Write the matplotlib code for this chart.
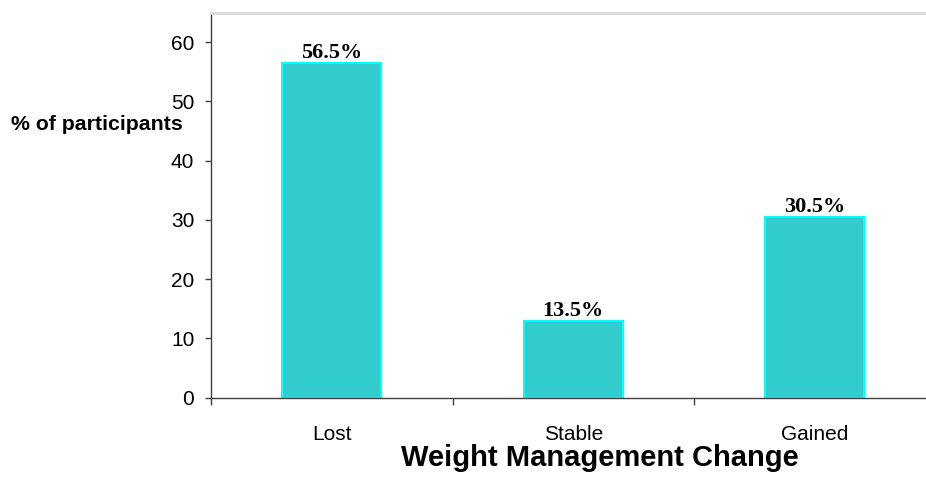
import matplotlib
matplotlib.use('Agg')
import matplotlib.pyplot as plt
import numpy as np

# data
categories = ['Lost', 'Stable', 'Gained']
pct = [56.5, 13.0, 30.5]
pct_labels = ['56.5%', '13.5%', '30.5%']
yticks = [0, 10, 20, 30, 40, 50, 60]

W, H = 926, 479
fig = plt.figure(figsize=(W / 100, H / 100), dpi=100)
plt.rcParams['font.family'] = ['Liberation Sans', 'DejaVu Sans']

# axes box: left spine at x=211, bottom at y=397.5, top at y=12.7; runs past the right edge
ax = fig.add_axes([211 / W, (H - 397.5) / H, (935.5 - 211) / W, (397.5 - 12.7) / H])

x = np.arange(len(categories))
ax.bar(x, pct, width=0.41, color='#33CCCC', edgecolor='#00FFFF', linewidth=1.5, zorder=2)

for xi, v, lab in zip(x, pct, pct_labels):
    ax.annotate(lab, (xi, v), xytext=(0, 3.5), textcoords='offset points',
                ha='center', va='baseline', fontsize=16, fontweight='bold',
                family='Liberation Serif')

ax.set_xlim(-0.5, 2.5)
ax.set_ylim(0, 65)
ax.set_yticks(yticks)
ax.set_xticks(x)
ax.set_xticklabels(categories)
ax.set_xticks([-0.5, 0.5, 1.5], minor=True)

ax.tick_params(axis='y', direction='out', length=4, width=1, color='#404040',
               labelsize=15, pad=8)
ax.tick_params(axis='x', which='major', length=0, labelsize=15, pad=19.5)
ax.tick_params(axis='x', which='minor', direction='out', length=5, width=1, color='#404040')

for s in ['left', 'bottom']:
    ax.spines[s].set_color('#404040')
    ax.spines[s].set_linewidth(1)
ax.spines['top'].set_color('#d9d9d9')
ax.spines['top'].set_linewidth(2)
ax.spines['right'].set_visible(False)

fig.text(600 / W, 1 - 466 / H, 'Weight Management Change', ha='center', va='baseline',
         fontsize=21, fontweight='bold')
fig.text(11 / W, 1 - 130 / H, '% of participants', ha='left', va='baseline',
         fontsize=15.3, fontweight='bold')

fig.savefig('out.png', dpi=100)
